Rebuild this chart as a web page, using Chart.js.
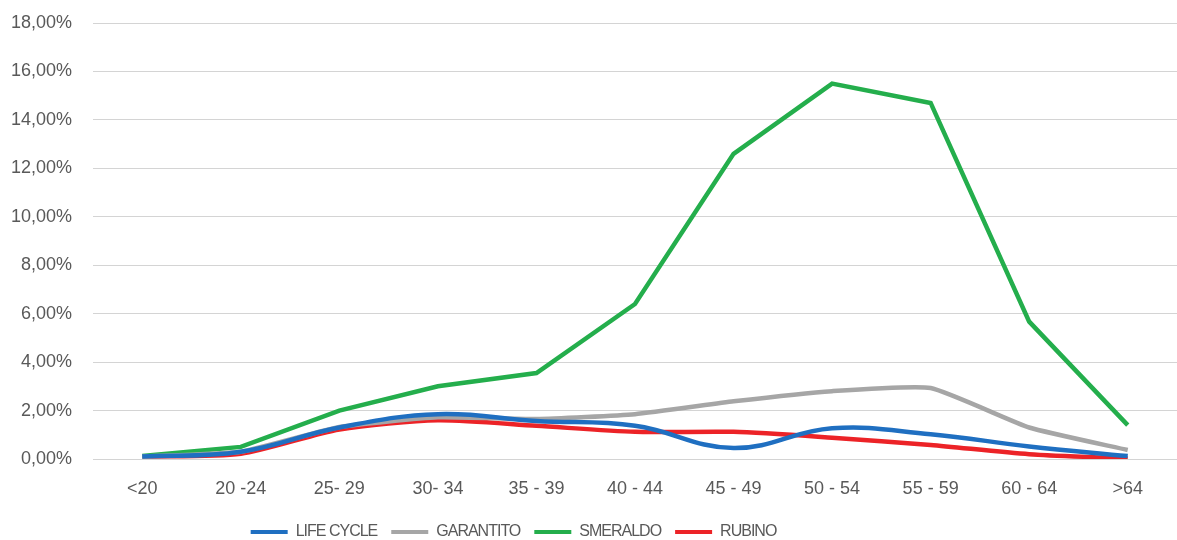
<!DOCTYPE html>
<html>
<head>
<meta charset="utf-8">
<script src="https://cdn.jsdelivr.net/npm/chart.js@4.4.1/dist/chart.umd.min.js"></script>
<style>
  html, body { margin: 0; padding: 0; background: #ffffff; }
  #wrap { width: 1177px; height: 540px; position: relative; }
</style>
</head>
<body>
<div id="wrap"><canvas id="c" width="1177" height="540"></canvas></div>
<script>
// Age bands on the x axis
const categories = ['<20', '20 -24', '25- 29', '30- 34', '35 - 39', '40 - 44', '45 - 49', '50 - 54', '55 - 59', '60 - 64', '>64'];

// Share of members per age band (percent)
const lifeCycle = [0.10, 0.30, 1.30, 1.85, 1.57, 1.37, 0.45, 1.27, 1.02, 0.52, 0.12];
const garantito = [0.10, 0.30, 1.32, 1.72, 1.65, 1.85, 2.38, 2.80, 2.93, 1.30, 0.37];
const smeraldo  = [0.12, 0.50, 2.00, 3.00, 3.55, 6.40, 12.60, 15.50, 14.70, 5.67, 1.40];
const rubino    = [0.10, 0.22, 1.22, 1.60, 1.37, 1.12, 1.12, 0.88, 0.58, 0.20, 0.02];

// Y axis ticks: 0% to 18% in steps of 2%
const yTicks = [0, 2, 4, 6, 8, 10, 12, 14, 16, 18];

const textColor = '#595959';
const fontFamily = "'Liberation Sans', Arial, sans-serif";

function fmtPct(v) {
  return v.toFixed(2).replace('.', ',') + '%';
}

function series(label, data, color, tension) {
  return {
    label: label,
    data: data,
    borderColor: color,
    backgroundColor: color,
    borderWidth: 4.5,
    pointRadius: 0,
    pointHoverRadius: 0,
    tension: tension,
    fill: false
  };
}

// Legend: slightly tighter letter spacing, and the row sits left of centre
const legendTweaks = {
  id: 'legendTweaks',
  afterInit(chart) {
    const legend = chart.legend;
    if (!legend) return;
    const fit = legend.fit;
    const draw = legend.draw;
    legend.fit = function (...args) {
      const ctx = this.ctx;
      ctx.letterSpacing = '-1px';
      const r = fit.apply(this, args);
      ctx.letterSpacing = '0px';
      return r;
    };
    legend.draw = function (...args) {
      const ctx = this.ctx;
      ctx.save();
      ctx.translate(-75, 0);
      ctx.letterSpacing = '-1px';
      const r = draw.apply(this, args);
      ctx.restore();
      ctx.letterSpacing = '0px';
      return r;
    };
  }
};

new Chart(document.getElementById('c'), {
  type: 'line',
  data: {
    labels: categories,
    datasets: [
      series('LIFE CYCLE', lifeCycle, '#1f6fc1', 0.4),
      series('GARANTITO', garantito, '#a6a6a6', 0.15),
      series('SMERALDO', smeraldo, '#24ae4c', 0),
      series('RUBINO', rubino, '#ec2327', 0.25)
    ]
  },
  plugins: [legendTweaks],
  options: {
    responsive: false,
    animation: false,
    layout: { padding: { top: 23, right: 0, bottom: -10, left: 0 } },
    plugins: {
      tooltip: { enabled: false },
      legend: {
        position: 'bottom',
        labels: {
          color: textColor,
          font: { family: fontFamily, size: 16 },
          boxWidth: 37,
          boxHeight: 4,
          padding: 14,
          generateLabels(chart) {
            const items = Chart.defaults.plugins.legend.labels.generateLabels(chart);
            items.forEach(it => { it.lineWidth = 0; });
            return items;
          }
        }
      }
    },
    scales: {
      x: {
        offset: true,
        grid: { display: false, drawTicks: false },
        border: { display: false },
        ticks: {
          color: textColor,
          font: { family: fontFamily, size: 18 },
          padding: 19,
          maxRotation: 0,
          autoSkip: false
        },
        afterFit(scale) { scale.height = 51; }
      },
      y: {
        min: 0,
        max: 18,
        afterBuildTicks(scale) {
          scale.ticks = yTicks.map(v => ({ value: v }));
        },
        grid: { color: '#d4d4d4', lineWidth: 1, drawTicks: false },
        border: { display: false },
        ticks: {
          color: textColor,
          font: { family: fontFamily, size: 18 },
          padding: 21,
          callback: v => fmtPct(v)
        },
        afterFit(scale) {
          scale.width = 93;
          scale.paddingTop = 0;
          scale.paddingBottom = 0;
        }
      }
    }
  }
});
</script>
</body>
</html>
